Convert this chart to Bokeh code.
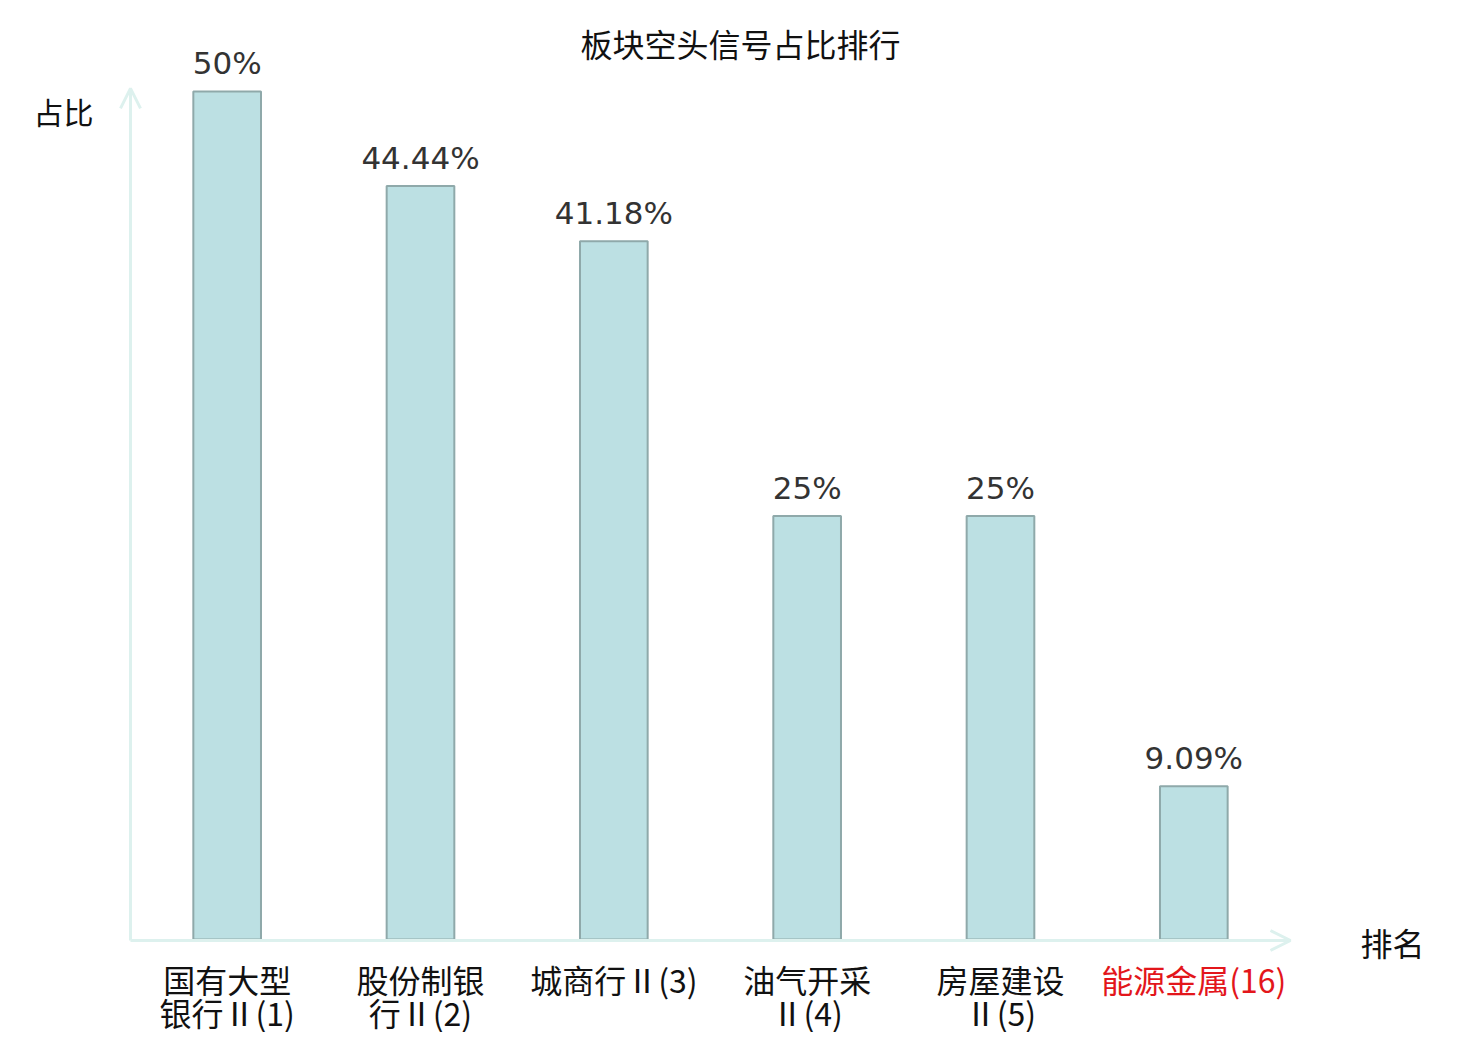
from bokeh.plotting import figure
from bokeh.models import ColumnDataSource, Range1d, Arrow, OpenHead, Label
from bokeh.core.properties import value
from bokeh.embed import file_html
from bokeh.resources import INLINE

# ---- data ----
categories = ["国有大型\n银行Ⅱ(1)", "股份制银\n行Ⅱ(2)", "城商行Ⅱ(3)", "油气开采\nⅡ(4)", "房屋建设\nⅡ(5)", "能源金属(16)"]
ratios = [50.0, 44.44, 41.18, 25.0, 25.0, 9.09]
value_labels = ["50%", "44.44%", "41.18%", "25%", "25%", "9.09%"]
label_colors = ["#111111", "#111111", "#111111", "#111111", "#111111", "#E3161B"]
title_text = "板块空头信号占比排行"
y_name = "占比"
x_name = "排名"

W, H = 1464, 1032
xpos = [i + 0.5 for i in range(len(categories))]

src = ColumnDataSource(dict(x=xpos, top=ratios, vlab=value_labels, cat=categories, col=label_colors,
                            zero=[0] * len(ratios)))

p = figure(width=W, height=H, output_backend="svg", toolbar_location=None,
           x_axis_location=None, y_axis_location=None, min_border=0,
           x_range=Range1d(-0.6724, 6.9001), y_range=Range1d(-5.418, 55.359))
p.outline_line_color = None
p.xgrid.visible = False
p.ygrid.visible = False
p.background_fill_color = "white"
p.border_fill_color = "white"

# axes with arrows
axis_col = "#DDF1EE"
p.add_layout(Arrow(x_start=0, y_start=0, x_end=6.0, y_end=0,
                   line_color=axis_col, line_width=3,
                   end=OpenHead(size=20, line_color=axis_col, line_width=3)))
p.add_layout(Arrow(x_start=0, y_start=0, x_end=0, y_end=50.18,
                   line_color=axis_col, line_width=3,
                   end=OpenHead(size=20, line_color=axis_col, line_width=3)))

p.vbar(x="x", top="top", bottom=0.06, width=0.35, source=src,
       fill_color="#BCE0E3", line_color="#8FA9AA", line_width=2)

p.text(x="x", y="top", text="vlab", source=src, text_align="center", text_baseline="bottom",
       y_offset=-10, text_font=value("DejaVu Sans"), text_font_size="31px", text_color="#333333")

p.text(x="x", y="zero", text="cat", source=src, text_align="center", text_baseline="top",
       y_offset=15, text_font=value("Noto Sans CJK SC"), text_font_size="32px",
       text_color="col", text_line_height=0.72)

p.add_layout(Label(x=740, y=H - 42, x_units="screen", y_units="screen", text=title_text,
                   text_align="center", text_baseline="middle", text_font="Noto Sans CJK SC",
                   text_font_size="32px", text_color="#111111"))
p.add_layout(Label(x=63, y=H - 110, x_units="screen", y_units="screen", text=y_name,
                   text_align="center", text_baseline="middle", text_font="Noto Sans CJK SC",
                   text_font_size="30px", text_color="#111111"))
p.add_layout(Label(x=1392, y=H - 941, x_units="screen", y_units="screen", text=x_name,
                   text_align="center", text_baseline="middle", text_font="Noto Sans CJK SC",
                   text_font_size="32px", text_color="#111111"))

open("out.html", "w").write(file_html(p, INLINE))
